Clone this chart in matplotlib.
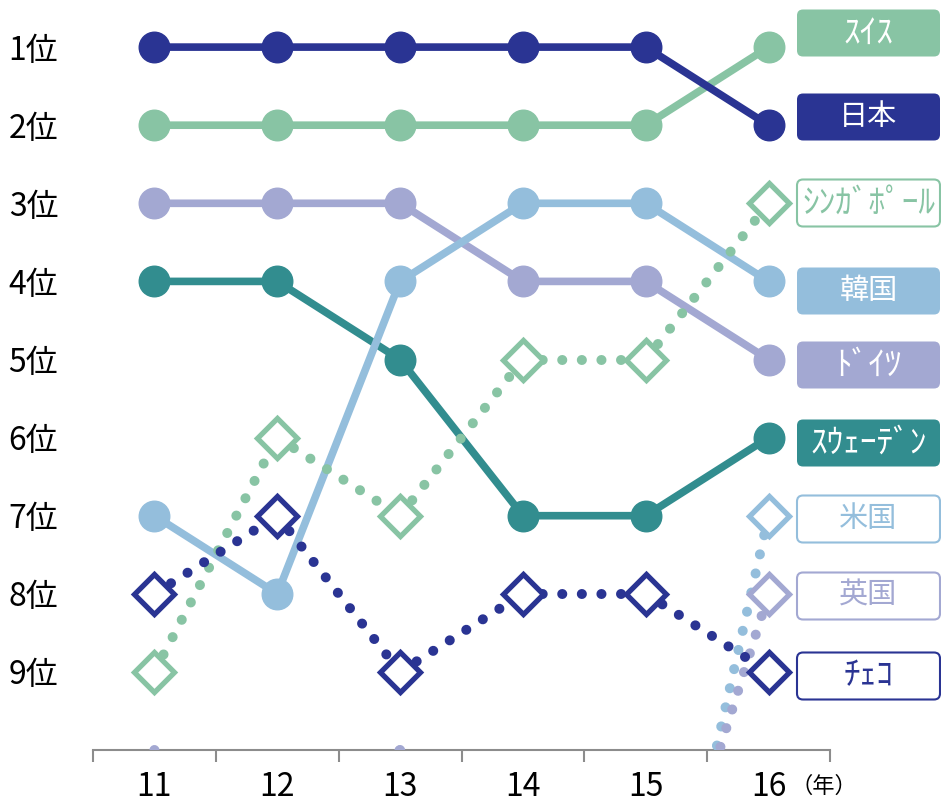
import matplotlib
matplotlib.use('Agg')
import matplotlib.pyplot as plt
from matplotlib.patches import FancyBboxPatch
import numpy as np

plt.rcParams['font.family'] = ['Noto Sans CJK JP', 'DejaVu Sans']

years = ['11', '12', '13', '14', '15', '16']
rank_labels = ['1位', '2位', '3位', '4位', '5位', '6位', '7位', '8位', '9位']

# 順位（10位以下は枠外）
switzerland = [2, 2, 2, 2, 2, 1]
japan = [1, 1, 1, 1, 1, 2]
singapore = [9, 6, 7, 5, 5, 3]
korea = [7, 8, 4, 3, 3, 4]
germany = [3, 3, 3, 4, 4, 5]
sweden = [4, 4, 5, 7, 7, 6]
usa = [np.nan, np.nan, np.nan, np.nan, 14, 7]
uk = [10, 11, 10, 12, 13, 8]
czech = [8, 7, 9, 8, 8, 9]

names = ['ｽｲｽ', '日本', 'ｼﾝｶﾞﾎﾟｰﾙ', '韓国', 'ﾄﾞｲﾂ', 'ｽｳｪｰﾃﾞﾝ', '米国', '英国', 'ﾁｪｺ']

GREEN = '#88C4A4'
NAVY = '#2A3493'
BLUE = '#94BEDC'
LAV = '#A3A8D2'
TEAL = '#328D8F'

# name, values, colour, dotted?
series = [
    (names[0], switzerland, GREEN, False),
    (names[1], japan, NAVY, False),
    (names[2], singapore, GREEN, True),
    (names[3], korea, BLUE, False),
    (names[4], germany, LAV, False),
    (names[5], sweden, TEAL, False),
    (names[6], usa, BLUE, True),
    (names[7], uk, LAV, True),
    (names[8], czech, NAVY, True),
]
# label box centres (pixels from top)
label_y = [33, 117, 203, 291, 365, 443, 519, 596, 676]

fig = plt.figure(figsize=(9.41, 8.02), dpi=100)
ax = fig.add_axes([93 / 941, 1 - 750 / 802, 737 / 941, 750 / 802])
x = np.arange(len(years))

solid_order = [4, 5, 3, 0, 1]
for k in solid_order:
    name, vals, c, dotted = series[k]
    ax.plot(x, vals, color=c, lw=5.5, marker='o', ms=22, mec=c, mfc=c,
            solid_joinstyle='round', zorder=2)

for name, vals, c, dotted in series:
    if not dotted:
        continue
    v = np.array(vals, dtype=float)
    # each segment on its own so a dot sits on every point
    for i in range(len(x) - 1):
        if np.isnan(v[i]) or np.isnan(v[i + 1]):
            continue
        ax.plot(x[i:i + 2], v[i:i + 2], color=c, lw=7.2,
                linestyle=(0, (0.01, 1.95)), dash_capstyle='round', zorder=3)
    shown = ~np.isnan(v) & (v <= 9)
    ax.plot(x[shown], v[shown], linestyle='none', marker='D', ms=20,
            mfc='white', mec=c, mew=3.8, zorder=4)

ax.set_xlim(-0.5, 5.5)
ax.set_ylim(10, 10 - 750 / 78.1)
ax.set_yticks(range(1, 10))
ax.set_yticklabels(rank_labels, fontsize=23)
ax.tick_params(axis='y', length=0, pad=25)
ax.set_xticks(x)
ax.set_xticklabels(years, fontsize=23)
ax.set_xticks(np.arange(-0.5, 6, 1), minor=True)
ax.tick_params(axis='x', which='major', length=0, pad=15)
ax.tick_params(axis='x', which='minor', length=8.5, width=1.5,
               color='#8C8C8C', direction='out')
for s in ['top', 'left', 'right']:
    ax.spines[s].set_visible(False)
ax.spines['bottom'].set_color('#8C8C8C')
ax.spines['bottom'].set_linewidth(1.5)

# label boxes on the right
ov = fig.add_axes([0, 0, 1, 1])
ov.set_xlim(0, 941)
ov.set_ylim(802, 0)
ov.axis('off')
for (name, vals, c, dotted), cy in zip(series, label_y):
    box = FancyBboxPatch((797, cy - 23.5), 143, 47,
                         boxstyle='round,pad=0,rounding_size=6',
                         fc='white' if dotted else c, ec=c,
                         lw=1.5 if dotted else 0)
    ov.add_patch(box)
    halfwidth = all(ord(ch) >= 0xFF61 for ch in name)
    ov.text(868.5, cy, name, ha='center', va='center',
            fontsize=24 if halfwidth else 21,
            color=c if dotted else 'white')

ov.text(791, 786, '（年）', ha='left', va='center', fontsize=16)

fig.savefig('out.png', dpi=100)
